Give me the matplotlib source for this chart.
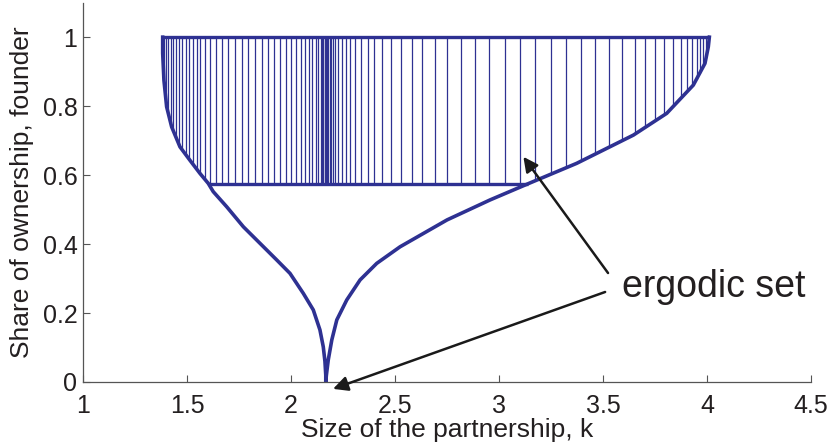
import numpy as np
import matplotlib
matplotlib.use("Agg")
import matplotlib.pyplot as plt

plt.rcParams['font.family'] = ['Liberation Sans', 'DejaVu Sans']

# boundary curve (left branch down to the cusp, then right branch up)
curve_x = [1.383, 1.383, 1.389, 1.402, 1.426, 1.466, 1.514, 1.562, 1.602, 1.626, 1.691,
           1.771, 1.851, 1.931, 1.995, 2.059, 2.107, 2.139, 2.155, 2.163, 2.167, 2.167,
           2.170, 2.179, 2.196, 2.220, 2.268, 2.332, 2.412, 2.524, 2.750, 2.957, 3.140,
           3.373, 3.646, 3.806, 3.934, 3.990, 4.006, 4.011]
curve_y = [1.0, 0.953, 0.875, 0.798, 0.740, 0.682, 0.643, 0.605, 0.576, 0.552, 0.508,
           0.450, 0.402, 0.354, 0.315, 0.257, 0.209, 0.151, 0.102, 0.060, 0.020, 0.0,
           0.020, 0.064, 0.122, 0.180, 0.238, 0.296, 0.344, 0.392, 0.470, 0.528, 0.575,
           0.634, 0.716, 0.779, 0.861, 0.924, 0.972, 1.0]

# lower edge of the ergodic set
edge_x = [1.380, 1.384, 1.389, 1.402, 1.426, 1.466, 1.514, 1.562, 1.602, 3.140, 3.373,
          3.646, 3.806, 3.934, 3.990, 4.006, 4.011]
edge_y = [1.0, 0.953, 0.875, 0.798, 0.740, 0.682, 0.643, 0.605, 0.575, 0.575, 0.634,
          0.716, 0.779, 0.861, 0.924, 0.972, 1.0]
set_top = 1.0
set_floor = 0.575

# positions of the vertical lines in the ergodic set
orbit_x = [1.380, 1.389, 1.399, 1.410, 1.422, 1.434, 1.447, 1.462, 1.477, 1.494, 1.510,
           1.527, 1.547, 1.564, 1.585, 1.609, 1.638, 1.667, 1.697, 1.731, 1.762, 1.795,
           1.827, 1.859, 1.887, 1.918, 1.947, 1.975, 2.000, 2.024, 2.047, 2.067, 2.087,
           2.102, 2.119, 2.131, 2.142, 2.149, 2.155, 2.161, 2.165, 2.168, 2.171, 2.175,
           2.180, 2.186, 2.192, 2.200, 2.212, 2.227, 2.245, 2.264, 2.284, 2.308, 2.337,
           2.368, 2.401, 2.439, 2.481, 2.531, 2.583, 2.632, 2.691, 2.752, 2.817, 2.883,
           2.953, 3.027, 3.101, 3.173, 3.249, 3.321, 3.393, 3.462, 3.529, 3.593, 3.656,
           3.704, 3.750, 3.795, 3.838, 3.875, 3.905, 3.929, 3.950, 3.966, 3.982, 3.995]

blue = '#2E3192'
txt = '#231F20'

fig = plt.figure(figsize=(8.31, 4.45), dpi=100)
ax = fig.add_axes([0.0999, 0.1416, 0.8761, 0.8524])

bottoms = np.interp(orbit_x, edge_x, edge_y)
ax.vlines(orbit_x, bottoms, set_top, color=blue, lw=0.9)
ax.plot([edge_x[0], edge_x[-1]], [set_top, set_top], color=blue, lw=2.4, solid_capstyle='butt')
ax.plot([1.602, 3.140], [set_floor, set_floor], color=blue, lw=2.4, solid_capstyle='butt')
ax.plot(curve_x, curve_y, color=blue, lw=2.6, solid_joinstyle='round')

arrow = dict(arrowstyle='-|>', color='#1a1a1a', lw=1.8, mutation_scale=22, shrinkA=0, shrinkB=0)
ax.annotate('', xy=(3.117, 0.653), xytext=(3.524, 0.316), arrowprops=arrow, annotation_clip=False)
ax.annotate('', xy=(2.202, -0.02), xytext=(3.51, 0.261), arrowprops=arrow, annotation_clip=False)
ax.text(3.591, 0.246, 'ergodic set', fontsize=27, color=txt, va='baseline', ha='left')

ax.set_xlim(1, 4.5)
ax.set_ylim(0, 1.1)
ax.set_xticks([1, 1.5, 2, 2.5, 3, 3.5, 4, 4.5])
ax.set_xticklabels(['1', '1.5', '2', '2.5', '3', '3.5', '4', '4.5'])
ax.set_yticks([0, 0.2, 0.4, 0.6, 0.8, 1])
ax.set_yticklabels(['0', '0.2', '0.4', '0.6', '0.8', '1'])
ax.tick_params(direction='in', length=5, width=0.8, color='#555555', labelsize=18,
               labelcolor=txt)
ax.tick_params(axis='x', pad=9)
ax.tick_params(axis='y', pad=4)
for s in ['top', 'right']:
    ax.spines[s].set_visible(False)
for s in ['left', 'bottom']:
    ax.spines[s].set_color('#555555')
    ax.spines[s].set_linewidth(0.9)

ax.set_xlabel('Size of the partnership, k', fontsize=19, color=txt, labelpad=0)
ax.set_ylabel('Share of ownership, founder', fontsize=19, color=txt, labelpad=6)

fig.savefig('out.png', dpi=100)
